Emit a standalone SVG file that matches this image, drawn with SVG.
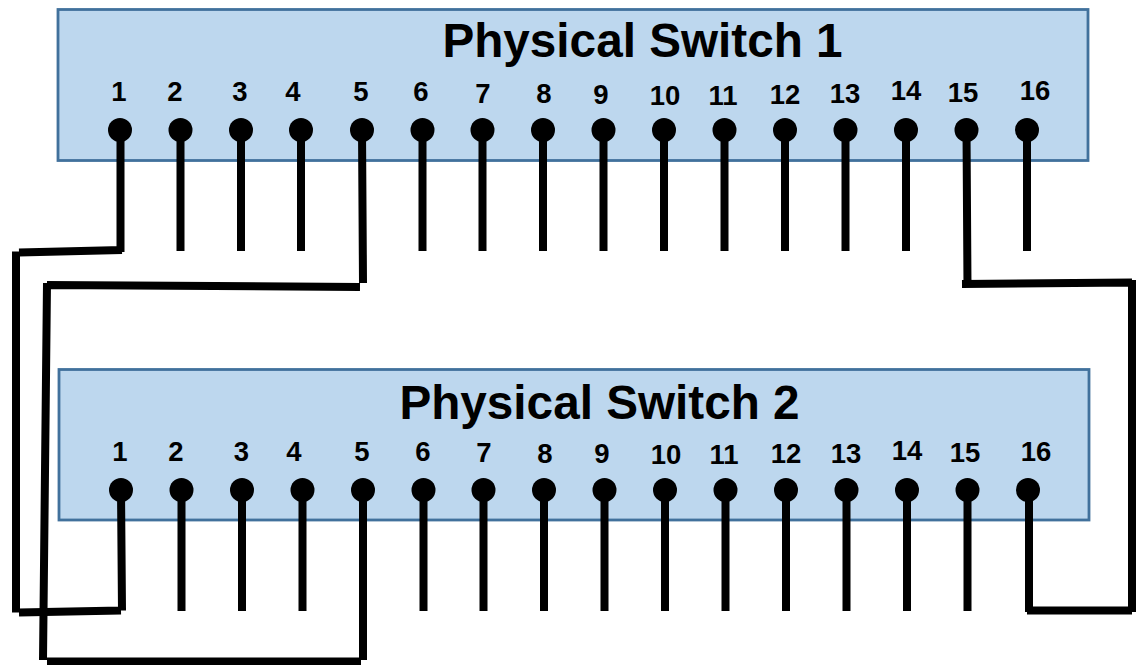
<svg xmlns="http://www.w3.org/2000/svg" width="1138" height="665" viewBox="0 0 1138 665">
<style>
.sw{fill:#bdd7ee;stroke:#41719c;stroke-width:2.800}
.pin{stroke:#000;stroke-width:8;fill:none}
.dot{fill:#000}
.t{font-family:"Liberation Sans",Arial,sans-serif;font-weight:bold;fill:#000}
.title{font-size:47.700px;text-anchor:middle}
.n{font-size:27.500px;text-anchor:middle}
</style>
<rect width="1138" height="665" fill="#fff"/>
<g id="switch1">
<rect class="sw" x="58" y="9.500" width="1030" height="151"/>
<text class="t title" x="642.500" y="57">Physical Switch 1</text>
</g>
<g id="switch2">
<rect class="sw" x="59" y="369.500" width="1030" height="150.500"/>
<text class="t title" x="599.500" y="419">Physical Switch 2</text>
</g>
<g id="connectors">
<path class="pin" d="M180.500 130V251M241 130V251M301 130V251M422.500 130V251M482.500 130V251M543 130V251M603.500 130V251M664 130V251M724.500 130V251M785 130V251M845.500 130V251M906 130V251M1027 130V251"/>
<path class="pin" d="M181.500 490V611M242 490V611M302.500 490V611M423.500 490V611M483.500 490V611M544 490V611M604.500 490V611M665 490V611M725.500 490V611M786 490V611M846.500 490V611M907 490V611M967.500 490V611"/>
<path class="pin" d="M120.500 130V252M122 250L19 252.500M16 251.500V612.500M19 612.500L121 610.500M121 490L122 610.500"/>
<path class="pin" d="M362 130L363 283M360 287L47 285M47 283L43 660M47 661.500H361M363 490V660"/>
<path class="pin" d="M966.500 130L967.500 287M962 284L1132 282.500M1132 280V612M1029 490V612M1027 610.500H1132"/>
</g>
<g id="ports1">
<circle class="dot" cx="120" cy="130" r="12"/><circle class="dot" cx="180.500" cy="130" r="12"/><circle class="dot" cx="241" cy="130" r="12"/><circle class="dot" cx="301" cy="130" r="12"/><circle class="dot" cx="362" cy="130" r="12"/><circle class="dot" cx="422.500" cy="130" r="12"/><circle class="dot" cx="482.500" cy="130" r="12"/><circle class="dot" cx="543" cy="130" r="12"/><circle class="dot" cx="603.500" cy="130" r="12"/><circle class="dot" cx="664" cy="130" r="12"/><circle class="dot" cx="724.500" cy="130" r="12"/><circle class="dot" cx="785" cy="130" r="12"/><circle class="dot" cx="845.500" cy="130" r="12"/><circle class="dot" cx="906" cy="130" r="12"/><circle class="dot" cx="966.500" cy="130" r="12"/><circle class="dot" cx="1027" cy="130" r="12"/>
<g class="t n">
<text x="119" y="101">1</text><text x="175" y="101">2</text><text x="240" y="101">3</text><text x="293" y="101">4</text><text x="361" y="101">5</text><text x="421" y="101">6</text><text x="483" y="103">7</text><text x="544" y="103">8</text><text x="601" y="104">9</text><text x="665" y="105">10</text><text x="723" y="105">11</text><text x="785" y="104">12</text><text x="845" y="103">13</text><text x="906" y="100">14</text><text x="963" y="102">15</text><text x="1035" y="100">16</text>
</g>
</g>
<g id="ports2">
<circle class="dot" cx="121" cy="490" r="12"/><circle class="dot" cx="181.500" cy="490" r="12"/><circle class="dot" cx="242" cy="490" r="12"/><circle class="dot" cx="302.500" cy="490" r="12"/><circle class="dot" cx="363" cy="490" r="12"/><circle class="dot" cx="423.500" cy="490" r="12"/><circle class="dot" cx="483.500" cy="490" r="12"/><circle class="dot" cx="544" cy="490" r="12"/><circle class="dot" cx="604.500" cy="490" r="12"/><circle class="dot" cx="665" cy="490" r="12"/><circle class="dot" cx="725.500" cy="490" r="12"/><circle class="dot" cx="786" cy="490" r="12"/><circle class="dot" cx="846.500" cy="490" r="12"/><circle class="dot" cx="907" cy="490" r="12"/><circle class="dot" cx="967.500" cy="490" r="12"/><circle class="dot" cx="1028" cy="490" r="12"/>
<g class="t n">
<text x="120" y="461">1</text><text x="176" y="461">2</text><text x="241.500" y="461">3</text><text x="294" y="461">4</text><text x="362" y="461">5</text><text x="423" y="461">6</text><text x="484" y="462">7</text><text x="545" y="463">8</text><text x="602" y="463">9</text><text x="666" y="464">10</text><text x="724" y="464">11</text><text x="786" y="463">12</text><text x="846" y="463">13</text><text x="907" y="460">14</text><text x="965" y="462">15</text><text x="1036" y="461">16</text>
</g>
</g>
</svg>
